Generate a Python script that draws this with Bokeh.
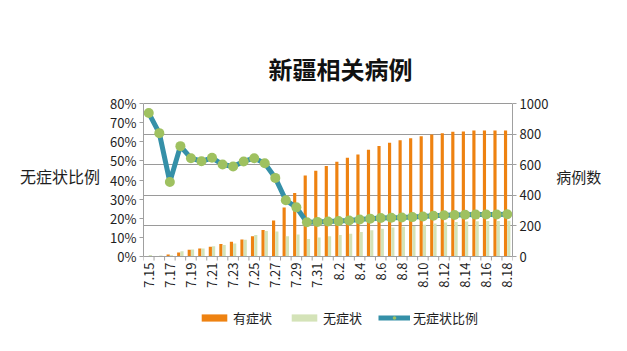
from bokeh.plotting import figure
from bokeh.models import (Range1d, LinearAxis, FixedTicker, NumeralTickFormatter,
                          Legend, LegendItem, ColumnDataSource, Label, Span)
from bokeh.core.properties import value
from bokeh.transform import dodge
from bokeh.embed import file_html
from bokeh.resources import INLINE
import math

dates = ["7.15", "7.16", "7.17", "7.18", "7.19", "7.20", "7.21", "7.22", "7.23",
         "7.24", "7.25", "7.26", "7.27", "7.28", "7.29", "7.30", "7.31",
         "8.1", "8.2", "8.3", "8.4", "8.5", "8.6", "8.7", "8.8", "8.9", "8.10",
         "8.11", "8.12", "8.13", "8.14", "8.15", "8.16", "8.17", "8.18"]
symptomatic = [3, 3, 13, 26, 44, 52, 63, 81, 96, 111, 133, 174, 235, 320, 415, 529, 560,
               592, 619, 645, 667, 697, 723, 743, 760, 773, 786, 797, 806, 815, 817,
               823, 823, 823, 823]
asymptomatic = [9, 6, 8, 35, 46, 52, 67, 75, 85, 110, 141, 166, 164, 133, 144, 115, 124,
                133, 140, 149, 160, 172, 182, 189, 195, 200, 208, 216, 222, 226, 228,
                231, 232, 232, 233]
asym_ratio = [0.75, 0.645, 0.39, 0.577, 0.514, 0.498, 0.516, 0.481, 0.471, 0.497, 0.514,
              0.488, 0.411, 0.294, 0.257, 0.179, 0.181, 0.183, 0.185, 0.188, 0.193, 0.198,
              0.201, 0.203, 0.204, 0.206, 0.209, 0.213, 0.216, 0.217, 0.218, 0.219, 0.220,
              0.220, 0.221]
pct_ticks = [0, 0.1, 0.2, 0.3, 0.4, 0.5, 0.6, 0.7, 0.8]
count_ticks = [0, 200, 400, 600, 800, 1000]

ORANGE = "#EE8211"
LGREEN = "#D4E3B8"
TEAL = "#3590A8"
MGREEN = "#9FC160"
AXIS = "#A0A0A0"
TXT = "#1E1E1E"
CJK = "Noto Sans CJK SC"

# layout geometry (pixels): data area from y=103 (80%) to y=256 (0%)
H = 351
TOP_PX, ZERO_PX = 103, 256
PX_PER_PCT = (ZERO_PX - TOP_PX) / 0.8
PCT_MAX = 0.8 + TOP_PX / PX_PER_PCT
PCT_MIN = -(H - ZERO_PX) / PX_PER_PCT
CNT_PER_PCT = 1000 / 0.8
N = len(dates)
PX_PER_CAT = 369 / N

def px_to_pct(py):
    return (ZERO_PX - py) / PX_PER_PCT

def px_to_cat(px):
    return (px - 143) / PX_PER_CAT - 0.5

idx = list(range(N))
src = ColumnDataSource(dict(x=idx, sym=symptomatic, asym=asymptomatic, ratio=asym_ratio))

p = figure(frame_width=369, frame_height=H, x_range=Range1d(-0.5, N - 0.5),
           y_range=Range1d(PCT_MIN, PCT_MAX), output_backend="svg", toolbar_location=None,
           min_border_left=143, min_border_right=115, min_border_top=0,
           min_border_bottom=0, x_axis_location=None)
p.outline_line_color = None
p.extra_y_ranges = {"cnt": Range1d(PCT_MIN * CNT_PER_PCT, PCT_MAX * CNT_PER_PCT)}

# grid aligned with right axis ticks
p.xgrid.visible = False
p.ygrid.ticker = FixedTicker(ticks=[t / 1000 * 0.8 for t in count_ticks[1:]])
p.ygrid.grid_line_color = "#9A9A9A"
p.ygrid.grid_line_width = 1

r_sym = p.vbar(x=dodge("x", -0.16), top="sym", width=0.3, source=src,
               y_range_name="cnt", fill_color=ORANGE, line_color=None)
r_asym = p.vbar(x=dodge("x", 0.15), top="asym", width=0.3, source=src,
                y_range_name="cnt", fill_color=LGREEN, line_color=None)
r_line = p.line(x="x", y="ratio", source=src, line_color=TEAL, line_width=5)
r_pts = p.scatter(x="x", y="ratio", source=src, size=10, fill_color=MGREEN,
                  line_color=None)

# category axis drawn at zero: line, boundary ticks, rotated date labels
p.add_layout(Span(location=0, dimension="width", line_color=AXIS, line_width=1))
bounds_x = [i - 0.5 for i in range(N + 1)]
p.segment(x0=bounds_x, x1=bounds_x, y0=[0] * len(bounds_x),
          y1=[-4 / PX_PER_PCT] * len(bounds_x), line_color=AXIS, line_width=1)
lab_src = ColumnDataSource(dict(x=idx[::2], y=[px_to_pct(ZERO_PX + 6)] * len(idx[::2]),
                                t=dates[::2]))
p.text(x="x", y="y", text="t", source=lab_src, angle=math.pi / 2,
       text_align="right", text_baseline="middle", text_font=value(CJK),
       text_font_size=value("13px"), text_color=TXT)

ya = p.yaxis[0]
ya.bounds = (0, 0.8)
ya.ticker = FixedTicker(ticks=pct_ticks)
ya.formatter = NumeralTickFormatter(format="0%")
ya.axis_line_color = AXIS
ya.major_tick_line_color = AXIS
ya.major_tick_out = 4
ya.major_tick_in = 0
ya.minor_tick_line_color = None
ya.major_label_text_font = CJK
ya.major_label_text_font_size = "13px"
ya.major_label_text_color = TXT
ya.major_label_standoff = 3
ya.axis_label = "无症状比例"
ya.axis_label_orientation = "horizontal"
ya.axis_label_standoff = 7
ya.axis_label_text_font = CJK
ya.axis_label_text_font_size = "16px"
ya.axis_label_text_font_style = "normal"
ya.axis_label_text_color = TXT

yr = LinearAxis(y_range_name="cnt", ticker=FixedTicker(ticks=count_ticks), bounds=(0, 1000))
yr.axis_line_color = AXIS
yr.major_tick_line_color = AXIS
yr.major_tick_out = 4
yr.major_tick_in = 0
yr.minor_tick_line_color = None
yr.major_label_text_font = CJK
yr.major_label_text_font_size = "13px"
yr.major_label_text_color = TXT
yr.major_label_standoff = 3
yr.axis_label = "病例数"
yr.axis_label_orientation = "horizontal"
yr.axis_label_standoff = 5
yr.axis_label_text_font = CJK
yr.axis_label_text_font_size = "15px"
yr.axis_label_text_font_style = "normal"
yr.axis_label_text_color = TXT
p.add_layout(yr, "right")

p.add_layout(Label(x=px_to_cat(340), y=px_to_pct(68), text="新疆相关病例",
                   text_font=CJK, text_font_size="24px", text_font_style="bold",
                   text_align="center", text_baseline="middle", text_color="#111111"))

legend = Legend(items=[LegendItem(label="有症状", renderers=[r_sym]),
                       LegendItem(label="无症状", renderers=[r_asym]),
                       LegendItem(label="无症状比例", renderers=[r_line, r_pts])],
                orientation="horizontal", location=(55, 24))
legend.background_fill_alpha = 0
legend.border_line_color = None
legend.label_text_font = CJK
legend.label_text_font_size = "13px"
legend.label_text_color = TXT
legend.glyph_width = 32
legend.glyph_height = 9
legend.spacing = 16
legend.label_standoff = 3
legend.padding = 2
legend.margin = 0
p.add_layout(legend)

open("out.html", "w").write(file_html(p, INLINE))
